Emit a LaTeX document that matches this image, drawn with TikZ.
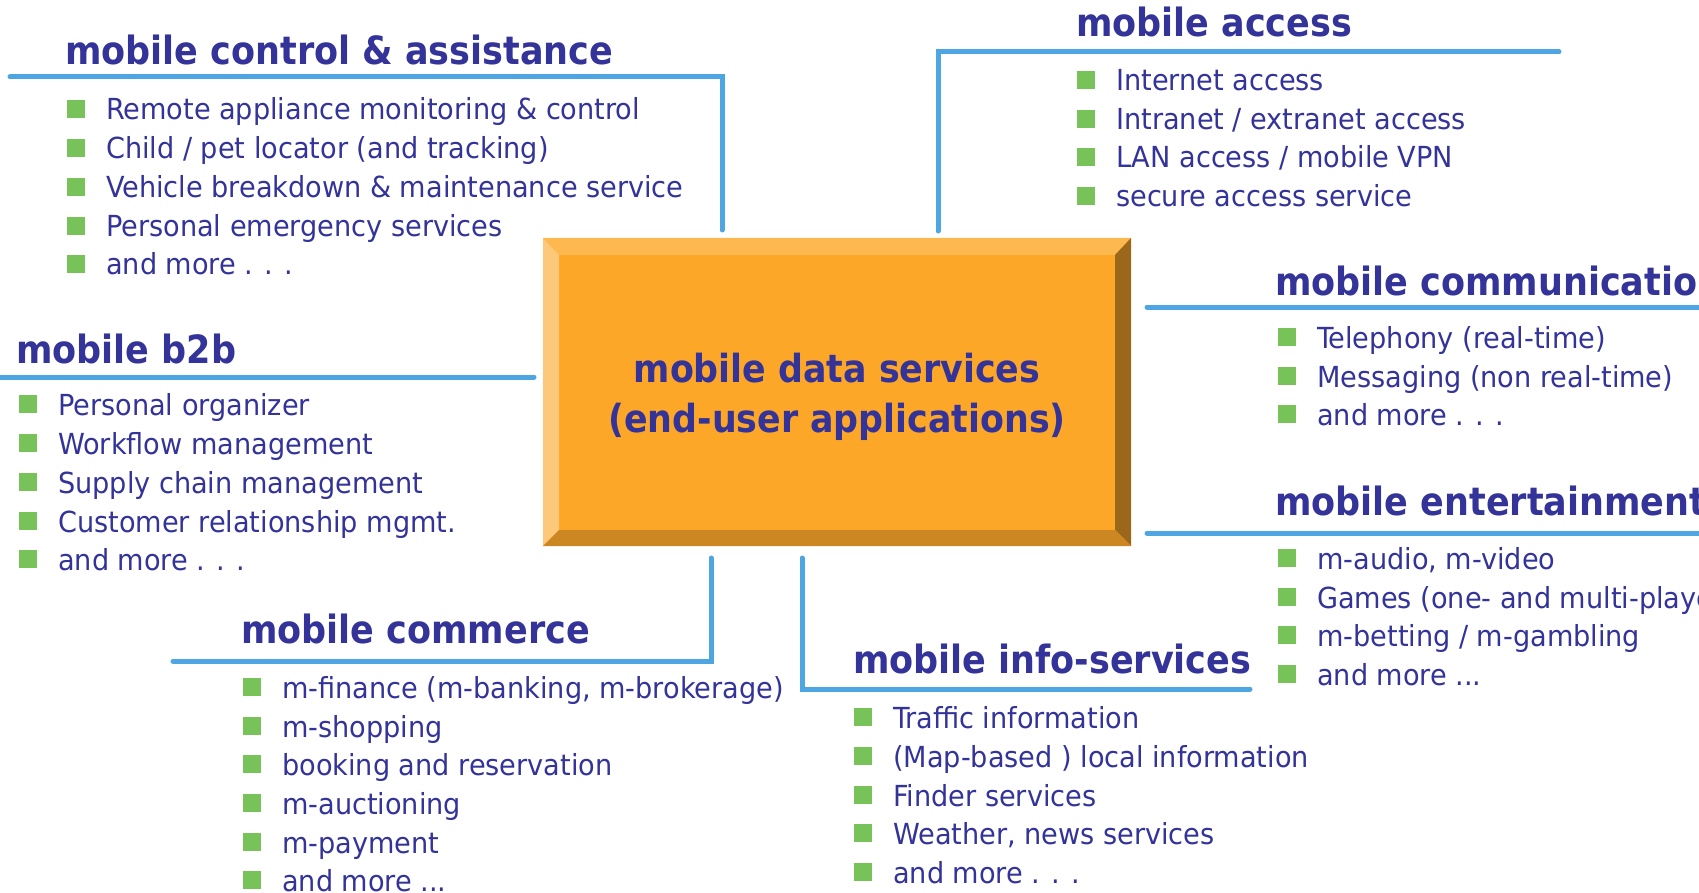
\documentclass[tikz,border=0pt]{standalone}
\usepackage{fontspec}
\setmainfont{DejaVu Sans Condensed}
\newfontfamily\itemfont{DejaVu Sans Condensed}[FakeStretch=1.04]
\usepackage{tikz}
\definecolor{navy}{HTML}{333399}
\definecolor{rule}{HTML}{4DA6E2}
\definecolor{leaf}{HTML}{77C35A}
\definecolor{face}{HTML}{FCA728}
\definecolor{bevtop}{HTML}{FDB850}
\definecolor{bevleft}{HTML}{FEC87A}
\definecolor{bevright}{HTML}{9B671A}
\definecolor{bevbot}{HTML}{CC8722}
\tikzset{
  titletext/.style={anchor=base west, inner sep=0pt, text=navy, font=\fontsize{38.9}{40}\selectfont\bfseries},
  itemtext/.style={anchor=base west, inner sep=0pt, text=navy, font=\itemfont\fontsize{29}{30}\selectfont},
  coretext/.style={anchor=base, inner sep=0pt, text=navy, font=\fontsize{38.7}{40}\selectfont\bfseries},
  bulletsq/.style={anchor=south west, fill=leaf, draw=none, inner sep=0pt, minimum size=18pt},
  bracket/.style={draw=rule, line width=5pt, line cap=round, line join=miter}
}
\newcommand{\svctitle}[4]{\node[titletext] (#1) at ( #2 , #3 ) {#4};}
\newcommand{\svcitem}[4]{\node[bulletsq] (#1b) at ( #2 , #3 - 2 ) {}; \node[itemtext] (#1) at ( #2 + 39 , #3 ) {#4};}

\begin{document}
\begin{tikzpicture}[x=1pt,y=-1pt]
        \useasboundingbox (0,0) rectangle (1699,893);
        \clip (0,0) rectangle (1699,893);

        % centre box
        \fill[face] (543,238) rectangle (1131,546);
        \fill[bevtop] (543,238) -- (1131,238) -- (1115,255) -- (559,255) -- cycle;
        \fill[bevleft] (543,238) -- (559,255) -- (559,530) -- (543,546) -- cycle;
        \fill[bevright] (1131,238) -- (1131,546) -- (1115,530) -- (1115,255) -- cycle;
        \fill[bevbot] (543,546) -- (1131,546) -- (1115,530) -- (559,530) -- cycle;
        \node[coretext] (core1) at (837,382) {mobile data services};
        \node[coretext] (core2) at (837,432) {(end-user applications)};

        % brackets
        \coordinate (ctlA) at (10,77);
        \coordinate (ctlB) at (722,77);
        \coordinate (ctlC) at (722,230);
        \draw[bracket] (ctlA) -- (ctlB) -- (ctlC);
        \coordinate (accA) at (1559,52);
        \coordinate (accB) at (938,52);
        \coordinate (accC) at (938,231);
        \draw[bracket] (accA) -- (accB) -- (accC);
        \coordinate (comA) at (1147,307);
        \coordinate (comB) at (1720,307);
        \draw[bracket] (comA) -- (comB);
        \coordinate (entA) at (1147,533);
        \coordinate (entB) at (1720,533);
        \draw[bracket] (entA) -- (entB);
        \coordinate (btbA) at (-10,377);
        \coordinate (btbB) at (534,377);
        \draw[bracket] (btbA) -- (btbB);
        \coordinate (mcoA) at (173,661);
        \coordinate (mcoB) at (711,661);
        \coordinate (mcoC) at (711,558);
        \draw[bracket] (mcoA) -- (mcoB) -- (mcoC);
        \coordinate (infA) at (802,558);
        \coordinate (infB) at (802,689);
        \coordinate (infC) at (1250,689);
        \draw[bracket] (infA) -- (infB) -- (infC);

        % mobile control & assistance
        \svctitle{ctl}{65}{65}{mobile control \& assistance}
        \svcitem{ctl1}{67}{120}{Remote appliance monitoring \& control}
        \svcitem{ctl2}{67}{159}{Child / pet locator (and tracking)}
        \svcitem{ctl3}{67}{198}{Vehicle breakdown \& maintenance service}
        \svcitem{ctl4}{67}{237}{Personal emergency services}
        \svcitem{ctl5}{67}{275}{and more . . .}

        % mobile access
        \svctitle{acc}{1076}{37}{mobile access}
        \svcitem{acc1}{1077}{91}{Internet access}
        \svcitem{acc2}{1077}{130}{Intranet / extranet access}
        \svcitem{acc3}{1077}{168}{LAN access / mobile VPN}
        \svcitem{acc4}{1077}{207}{secure access service}

        % mobile communications
        \svctitle{com}{1275}{295}{mobile communications}
        \svcitem{com1}{1278}{348}{Telephony (real-time)}
        \svcitem{com2}{1278}{387}{Messaging (non real-time)}
        \svcitem{com3}{1278}{425}{and more . . .}

        % mobile entertainment
        \svctitle{ent}{1275}{515}{mobile entertainment}
        \svcitem{ent1}{1278}{569}{m-audio, m-video}
        \svcitem{ent2}{1278}{608}{Games (one- and multi-player)}
        \svcitem{ent3}{1278}{646}{m-betting / m-gambling}
        \svcitem{ent4}{1278}{685}{and more ...}

        % mobile b2b
        \svctitle{btb}{16}{363}{mobile b2b}
        \svcitem{btb1}{19}{415}{Personal organizer}
        \svcitem{btb2}{19}{454}{Workflow management}
        \svcitem{btb3}{19}{493}{Supply chain management}
        \svcitem{btb4}{19}{532}{Customer relationship mgmt.}
        \svcitem{btb5}{19}{570}{and more . . .}

        % mobile commerce
        \svctitle{mco}{241}{643}{mobile commerce}
        \svcitem{mco1}{243}{698}{m-finance (m-banking, m-brokerage)}
        \svcitem{mco2}{243}{737}{m-shopping}
        \svcitem{mco3}{243}{775}{booking and reservation}
        \svcitem{mco4}{243}{814}{m-auctioning}
        \svcitem{mco5}{243}{853}{m-payment}
        \svcitem{mco6}{243}{891}{and more ...}

        % mobile info-services
        \svctitle{inf}{853}{673}{mobile info-services}
        \svcitem{inf1}{854}{728}{Traffic information}
        \svcitem{inf2}{854}{767}{(Map-based ) local information}
        \svcitem{inf3}{854}{806}{Finder services}
        \svcitem{inf4}{854}{844}{Weather, news services}
        \svcitem{inf5}{854}{883}{and more . . .}
    \end{tikzpicture}
\end{document}
